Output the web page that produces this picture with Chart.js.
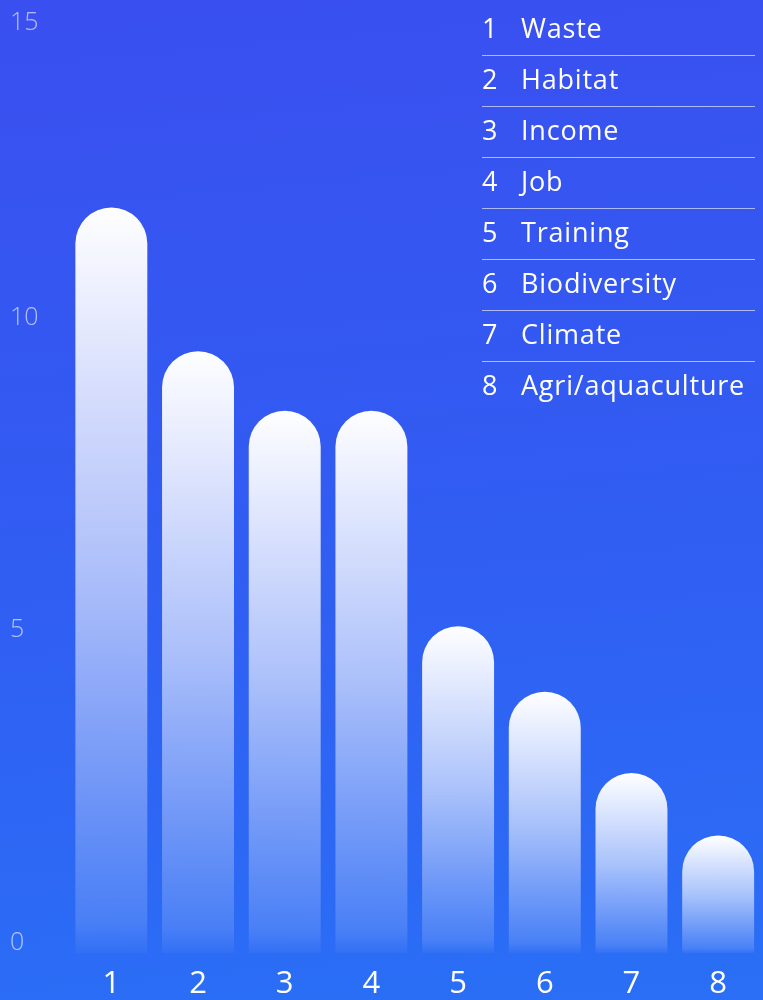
<!DOCTYPE html>
<html>
<head>
<meta charset="utf-8">
<title>Topics</title>
<script src="https://cdn.jsdelivr.net/npm/chart.js@4.4.1/dist/chart.umd.min.js"></script>
<style>
  html, body { margin: 0; padding: 0; }
  body {
    width: 763px;
    height: 1000px;
    overflow: hidden;
    background: linear-gradient(175deg, #3a4ff0 0%, #315cf2 50%, #2a6ff6 100%);
  }
  #wrap { position: relative; width: 763px; height: 1000px; }
</style>
</head>
<body>
<div id="wrap"><canvas id="chart" width="763" height="1000"></canvas></div>
<script>
var categories = ['1', '2', '3', '4', '5', '6', '7', '8'];
var topics = ['Waste', 'Habitat', 'Income', 'Job', 'Training', 'Biodiversity', 'Climate', 'Agri/aquaculture'];
var counts = [11.75, 9.45, 8.5, 8.5, 5.05, 4.0, 2.7, 1.7];
var yTicks = [0, 5, 10, 15];
var yMin = -0.18;
var yMax = 15;

var FONT = '"Open Sans", "DejaVu Sans", sans-serif';

// white at the top of each bar, fading out towards its base
function barFill(context) {
    var chart = context.chart;
    if (!chart.chartArea) return 'rgba(255,255,255,0.6)';
    var y = chart.scales.y;
    var top = y.getPixelForValue(counts[context.dataIndex]);
    var bottom = y.getPixelForValue(yMin);
    var g = chart.ctx.createLinearGradient(0, top, 0, bottom);
    g.addColorStop(0, 'rgba(255,255,255,1)');
    g.addColorStop(0.5, 'rgba(255,255,255,0.6)');
    g.addColorStop(0.96, 'rgba(255,255,255,0.14)');
    g.addColorStop(1, 'rgba(255,255,255,0.03)');
    return g;
}

// y tick labels, the top one kept inside the canvas
var yLabels = {
    id: 'yLabels',
    afterDraw: function(chart) {
        var ctx = chart.ctx;
        var y = chart.scales.y;
        ctx.save();
        ctx.font = '300 25px ' + FONT;
        ctx.fillStyle = 'rgba(255,255,255,0.62)';
        ctx.textAlign = 'left';
        ctx.textBaseline = 'middle';
        yTicks.forEach(function(v) {
            var py = Math.max(y.getPixelForValue(v), 22);
            ctx.fillText(String(v), 10, py + 1);
        });
        ctx.restore();
    }
};

// numbered list of topics, top right
var topicList = {
    id: 'topicList',
    afterDraw: function(chart) {
        var ctx = chart.ctx;
        ctx.save();
        ctx.font = '400 27px ' + FONT;
        ctx.letterSpacing = '0.8px';
        ctx.fillStyle = '#ffffff';
        ctx.textAlign = 'left';
        ctx.textBaseline = 'middle';
        ctx.strokeStyle = 'rgba(255,255,255,0.6)';
        ctx.lineWidth = 1.2;
        for (var i = 0; i < topics.length; i++) {
            var rowY = 29 + 51 * i;
            ctx.fillText(categories[i], 482, rowY + 1.5);
            ctx.fillText(topics[i], 521, rowY + 1.5);
            if (i < topics.length - 1) {
                ctx.beginPath();
                ctx.moveTo(482, rowY + 26.5);
                ctx.lineTo(755, rowY + 26.5);
                ctx.stroke();
            }
        }
        ctx.restore();
    }
};

var chart = new Chart(document.getElementById('chart'), {
    type: 'bar',
    data: {
        labels: categories,
        datasets: [{
            data: counts,
            base: yMin,
            backgroundColor: barFill,
            borderWidth: 0,
            borderRadius: 36,
            borderSkipped: 'start',
            barPercentage: 0.83,
            categoryPercentage: 1
        }]
    },
    options: {
        responsive: false,
        animation: false,
        layout: { padding: { left: 68, top: 4.5, right: 1.5, bottom: 0 } },
        plugins: {
            legend: { display: false },
            tooltip: { enabled: false }
        },
        scales: {
            x: {
                grid: { display: false, drawTicks: false },
                border: { display: false },
                ticks: {
                    color: '#ffffff',
                    font: { family: FONT, size: 31, weight: '400' },
                    padding: 13
                },
                afterFit: function(scale) { scale.height = 47; }
            },
            y: {
                display: false,
                min: yMin,
                max: yMax
            }
        }
    },
    plugins: [yLabels, topicList]
});
</script>
</body>
</html>
